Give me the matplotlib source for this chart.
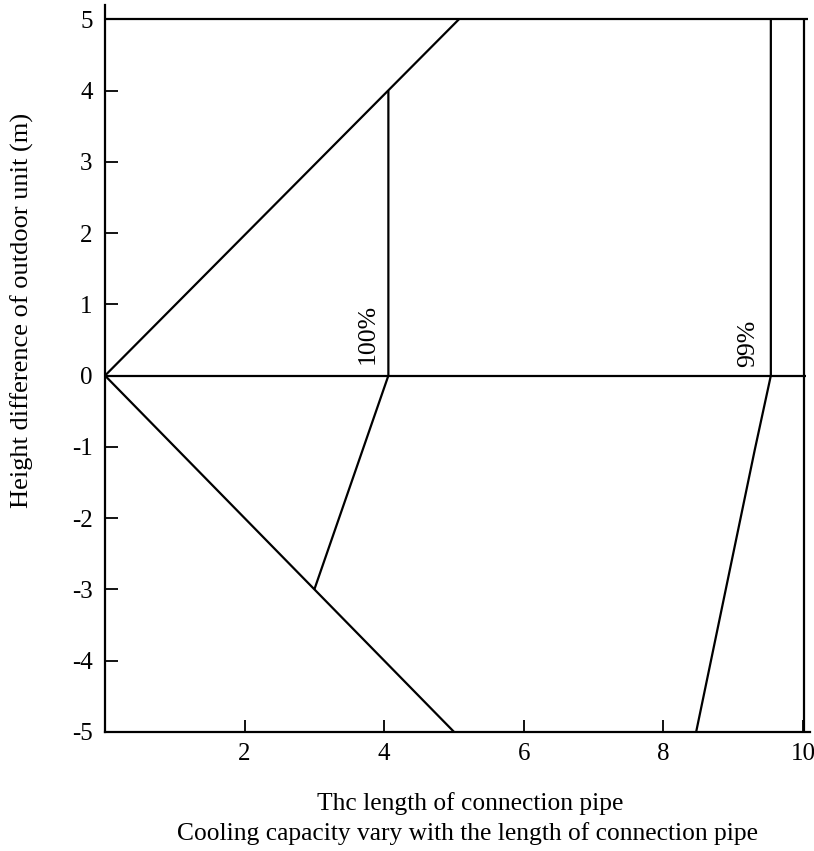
import matplotlib
matplotlib.use("Agg")
import matplotlib.pyplot as plt

# values
upper_edge_x = [0, 5.07]
upper_edge_y = [0, 5]
lower_edge_x = [0, 5.0]
lower_edge_y = [0, -5]

curve_100_x = [3.0, 4.06, 4.06]
curve_100_y = [-3.0, 0, 4.0]
curve_99_x = [8.47, 9.31, 9.54, 9.54]
curve_99_y = [-5, -1.04, 0, 5]

zero_line_x = [0, 10.05]
zero_line_y = [0, 0]
top_line_x = [0, 10.07]
top_line_y = [5, 5]
right_line_x = [10.02, 10.02]
right_line_y = [-5, 5]

x_ticks = [2, 4, 6, 8, 10]
y_ticks = [-5, -4, -3, -2, -1, 0, 1, 2, 3, 4, 5]
curve_labels = ["100%", "99%"]
label_pos_x = [3.77, 9.21]
label_pos_y = [0.16, 0.12]

plt.rcParams["font.family"] = ["Liberation Serif", "DejaVu Serif"]
plt.rcParams["axes.unicode_minus"] = False

fig = plt.figure(figsize=(8.14, 8.51), dpi=100)
ax = fig.add_axes([0.129, 0.14, 0.866, 0.854])

lw = 1.6
col = "black"
for xs, ys in [(upper_edge_x, upper_edge_y), (lower_edge_x, lower_edge_y),
               (curve_100_x, curve_100_y), (curve_99_x, curve_99_y),
               (zero_line_x, zero_line_y), (top_line_x, top_line_y),
               (right_line_x, right_line_y)]:
    ax.plot(xs, ys, color=col, lw=lw, solid_capstyle="butt", clip_on=False)

for txt, tx, ty in zip(curve_labels, label_pos_x, label_pos_y):
    ax.text(tx, ty, txt, rotation=90, ha="center", va="bottom", fontsize=18.5)

ax.set_xlim(0, 10.1)
ax.set_ylim(-5, 5.2)
ax.set_xticks(x_ticks)
ax.set_yticks(y_ticks)
ax.tick_params(direction="in", length=9, width=1.3, labelsize=18)
ax.tick_params(axis="y", pad=9)
ax.tick_params(axis="x", pad=8)
ax.spines["top"].set_visible(False)
ax.spines["right"].set_visible(False)
for s in ("left", "bottom"):
    ax.spines[s].set_linewidth(lw)

fig.text(0.028, 0.635, "Height difference of outdoor unit (m)", rotation=90,
         ha="center", va="center", fontsize=19)
fig.text(0.578, 0.056, "Thc length of connection pipe", ha="center", va="center", fontsize=18.4)
fig.text(0.574, 0.021, "Cooling capacity vary with the length of connection pipe",
         ha="center", va="center", fontsize=18.4)

fig.savefig("out.png", dpi=100)
